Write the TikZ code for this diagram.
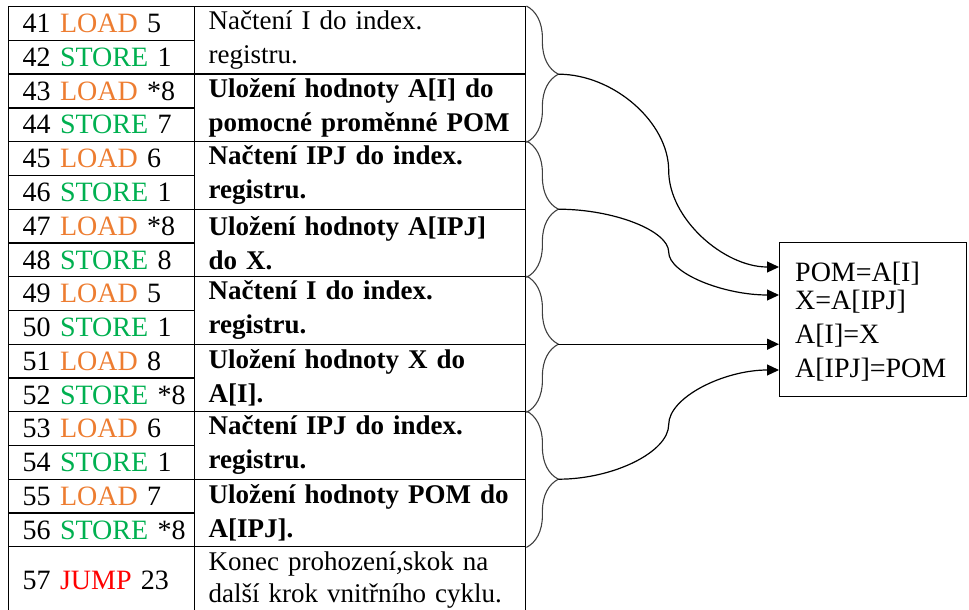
\documentclass[tikz,border=0pt]{standalone}
\usepackage{fontspec}
\setmainfont{Liberation Serif}
\usetikzlibrary{decorations.pathreplacing,arrows.meta,calc}
\definecolor{loadc}{RGB}{237,125,49}
\definecolor{storec}{RGB}{0,176,80}
\definecolor{jumpc}{RGB}{255,0,0}
\newcommand{\opload}{\textcolor{loadc}{LOAD}}
\newcommand{\opstore}{\textcolor{storec}{STORE}}
\newcommand{\opjump}{\textcolor{jumpc}{JUMP}}
\begin{document}
\begin{tikzpicture}[x=1pt,y=-1pt,
  font=\fontsize{27}{34}\selectfont,
  cellframe/.style={draw, line width=1.4pt, anchor=north west, inner xsep=14pt, inner ysep=0pt, align=left},
  instr/.style={cellframe, text width=158pt, minimum height=33.75pt, font=\fontsize{28}{34}\selectfont},
  desc/.style={cellframe, text width=303pt, minimum height=67.5pt},
  bdesc/.style={desc, font=\fontsize{27}{34}\selectfont\bfseries},
  grp/.style={draw=black!75, line width=1.1pt, decorate, decoration={brace, amplitude=32pt}},
  link/.style={line width=1.2pt, -{Triangle[length=12pt,width=11pt]}},
  res/.style={anchor=base west, inner sep=0pt, font=\fontsize{28}{34}\selectfont}]
\useasboundingbox (0,0) rectangle (969,610);

% instruction column
\node[instr] (i41) at (8,6)      {41~\opload{}~5};
\node[instr] (i42) at (8,39.75)  {42~\opstore{}~1};
\node[instr] (i43) at (8,73.5)   {43~\opload{}~*8};
\node[instr] (i44) at (8,107.25) {44~\opstore{}~7};
\node[instr] (i45) at (8,141)    {45~\opload{}~6};
\node[instr] (i46) at (8,174.75) {46~\opstore{}~1};
\node[instr] (i47) at (8,208.5)  {47~\opload{}~*8};
\node[instr] (i48) at (8,242.25) {48~\opstore{}~8};
\node[instr] (i49) at (8,276)    {49~\opload{}~5};
\node[instr] (i50) at (8,309.75) {50~\opstore{}~1};
\node[instr] (i51) at (8,343.5)  {51~\opload{}~8};
\node[instr] (i52) at (8,377.25) {52~\opstore{}~*8};
\node[instr] (i53) at (8,411)    {53~\opload{}~6};
\node[instr] (i54) at (8,444.75) {54~\opstore{}~1};
\node[instr] (i55) at (8,478.5)  {55~\opload{}~7};
\node[instr] (i56) at (8,512.25) {56~\opstore{}~*8};
\node[instr, minimum height=67pt] (i57) at (8,546) {57~\opjump{}~23};

% description column
\node[desc]  (d41) at (194,6)     {Načtení I do index.\\registru.};
\node[bdesc] (d43) at (194,73.5)  {Uložení hodnoty A[I] do\\pomocné proměnné POM};
\node[bdesc] (d45) at (194,141)   {Načtení IPJ do index.\\registru.};
\node[bdesc] (d47) at (194,208.5) {Uložení hodnoty A[IPJ]\\do X.};
\node[bdesc] (d49) at (194,276)   {Načtení I do index.\\registru.};
\node[bdesc] (d51) at (194,343.5) {Uložení hodnoty X do\\A[I].};
\node[bdesc] (d53) at (194,411)   {Načtení IPJ do index.\\registru.};
\node[bdesc] (d55) at (194,478.5) {Uložení hodnoty POM do\\A[IPJ].};
\node[desc, minimum height=67pt, font=\fontsize{27}{32}\selectfont] (d57) at (194,546) {Konec prohození,skok na\\další krok vnitřního cyklu.};

% result box
\node[draw, line width=1.4pt, anchor=north west, minimum width=187pt, minimum height=154pt, inner sep=0pt] (box) at (779,242) {};
\node[res] (r1) at (795,281) {POM=A[I]};
\node[res] (r2) at (795,309) {X=A[IPJ]};
\node[res] (r3) at (795,343) {A[I]=X};
\node[res] (r4) at (795,377) {A[IPJ]=POM};

% braces grouping two instruction pairs each
\draw[grp] (d41.north east) -- (d43.south east);
\draw[grp] (d45.north east) -- (d47.south east);
\draw[grp] (d49.north east) -- (d51.south east);
\draw[grp] (d53.north east) -- (d55.south east);
\coordinate (t1) at ($(d41.north east)!0.5!(d43.south east)+(32,0)$);
\coordinate (t2) at ($(d45.north east)!0.5!(d47.south east)+(32,0)$);
\coordinate (t3) at ($(d49.north east)!0.5!(d51.south east)+(32,0)$);
\coordinate (t4) at ($(d53.north east)!0.5!(d55.south east)+(32,0)$);

% arrow targets on the box edge
\coordinate (e1) at ($(box.north west)+(0,25)$);
\coordinate (e2) at ($(box.north west)+(0,53)$);
\coordinate (e3) at (box.west |- t3);
\coordinate (e4) at ($(box.north west)+(0,128)$);

% curved connectors: two cubic halves meeting with a vertical tangent
\foreach \k in {1,2,4}{
  \coordinate (m\k) at ($(t\k)!0.5!(e\k)$);
  \draw[link] (t\k)
    .. controls ($(t\k)!0.5!(m\k |- t\k)$) and ($(m\k)!0.5!(m\k |- t\k)$) .. (m\k)
    .. controls ($(m\k)!0.5!(m\k |- e\k)$) and ($(e\k)!0.5!(m\k |- e\k)$) .. (e\k);
}
\draw[link] (t3) -- (e3);
\end{tikzpicture}
\end{document}
